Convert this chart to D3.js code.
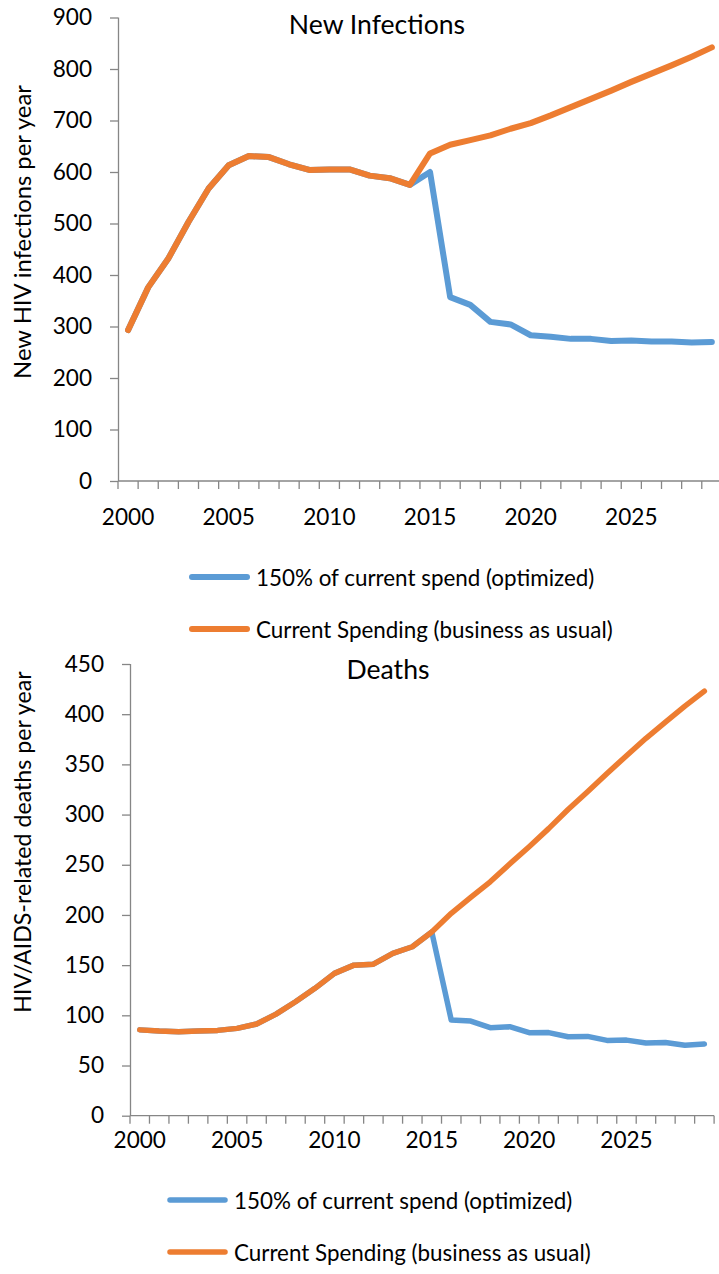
<!DOCTYPE html>
<html>
<head>
<meta charset="utf-8">
<script src="https://cdn.jsdelivr.net/npm/d3@7"></script>
<style>
  html, body { margin: 0; padding: 0; background: #fff; }
  svg { display: block; }
  text { font-family: Lato, "Open Sans", sans-serif; fill: #000; }
</style>
</head>
<body>
<svg id="chart" width="719" height="1274"></svg>
<script>
// ---------- data ----------
const years = [2000, 2001, 2002, 2003, 2004, 2005, 2006, 2007, 2008, 2009,
               2010, 2011, 2012, 2013, 2014, 2015, 2016, 2017, 2018, 2019,
               2020, 2021, 2022, 2023, 2024, 2025, 2026, 2027, 2028, 2029];
const yearLabels = [2000, 2005, 2010, 2015, 2020, 2025];

const seriesNames = ["150% of current spend (optimized)", "Current Spending (business as usual)"];

const infectionsOptimized = [293, 376, 432, 503, 568, 613, 631, 629, 615, 604,
                             605, 605, 593, 588, 575, 600, 357, 342, 309, 304,
                             283, 280, 276, 276, 272, 273, 271, 271, 269, 270];
const infectionsCurrent   = [293, 376, 432, 503, 568, 613, 631, 629, 615, 604,
                             605, 605, 593, 588, 575, 636, 653, 662, 671, 684,
                             695, 710, 726, 742, 758, 775, 791, 807, 824, 842];
const infectionsTicks = [0, 100, 200, 300, 400, 500, 600, 700, 800, 900];

const deathsOptimized = [85.5, 84.3, 83.7, 84.3, 85, 87, 91.3, 101.2, 113.5, 126.9,
                         141.8, 150, 151, 161.7, 168.3, 183, 95.3, 94.3, 87.7, 88.7,
                         82.7, 82.8, 78.7, 79, 75, 75.3, 72.4, 73, 70.1, 71.4];
const deathsCurrent   = [85.5, 84.3, 83.7, 84.3, 85, 87, 91.3, 101.2, 113.5, 126.9,
                         141.8, 150, 151, 161.7, 168.3, 183, 201.6, 217.5, 233, 250.7,
                         268, 286, 305, 322.7, 341, 358.6, 376, 392, 408, 423];
const deathsTicks = [0, 50, 100, 150, 200, 250, 300, 350, 400, 450];

const colors = ["#5B9BD5", "#ED7D31"];

// ---------- drawing ----------
const svg = d3.select("#chart");
const axisColor = "#868686";

function drawChart(cfg) {
  const g = svg.append("g");
  const x = d3.scaleBand().domain(years).range([cfg.left, cfg.left + cfg.bandW * years.length]).padding(0);
  const y = d3.scaleLinear().domain([0, cfg.ticks[cfg.ticks.length - 1]]).range([cfg.bottom, cfg.top]);

  // y axis
  const yAxis = g.append("g")
    .attr("transform", `translate(${cfg.left},0)`)
    .call(d3.axisLeft(y).tickValues(cfg.ticks).tickSize(8).tickPadding(cfg.yPad).tickFormat(d3.format("d")));
  yAxis.select(".domain").attr("stroke", axisColor).attr("stroke-width", 1.3).attr("d", `M0.5,${cfg.bottom}V${cfg.top}`);
  yAxis.selectAll(".tick line").attr("stroke", axisColor).attr("stroke-width", 1.3);
  yAxis.selectAll(".tick text").style("font-size", cfg.tickFont + "px").attr("fill", "#000");

  // x axis: boundary tick marks
  const xg = g.append("g").attr("transform", `translate(0,${cfg.bottom})`);
  xg.append("line")
    .attr("x1", cfg.left).attr("x2", x.range()[1])
    .attr("stroke", axisColor).attr("stroke-width", 1.3);
  const bounds = years.map(d => x(d)).concat([x.range()[1]]);
  xg.selectAll("line.bt").data(bounds).join("line")
    .attr("class", "bt")
    .attr("x1", d => d).attr("x2", d => d)
    .attr("y1", 0).attr("y2", 8)
    .attr("stroke", axisColor).attr("stroke-width", 1.3);
  // x labels through a band axis
  const xAxis = g.append("g")
    .attr("transform", `translate(0,${cfg.bottom})`)
    .call(d3.axisBottom(x).tickValues(yearLabels).tickSize(0).tickPadding(cfg.xPad));
  xAxis.select(".domain").remove();
  xAxis.selectAll(".tick text").style("font-size", cfg.tickFont + "px").attr("fill", "#000");

  // lines
  const line = d3.line()
    .x((d, i) => x(years[i]) + x.bandwidth() / 2)
    .y(d => y(d));
  cfg.series.forEach((s, k) => {
    g.append("path")
      .datum(s)
      .attr("fill", "none")
      .attr("stroke", colors[k])
      .attr("stroke-width", cfg.lineW)
      .attr("stroke-linejoin", "round")
      .attr("stroke-linecap", "round")
      .attr("d", line);
  });

  // title
  g.append("text")
    .attr("x", cfg.titleX).attr("y", cfg.titleY)
    .attr("text-anchor", "middle")
    .style("font-size", cfg.titleFont + "px")
    .text(cfg.title);

  // axis title
  g.append("text")
    .attr("transform", `translate(${cfg.yTitleX},${cfg.yTitleY}) rotate(-90)`)
    .attr("text-anchor", "middle")
    .attr("dominant-baseline", "central")
    .style("font-size", cfg.yTitleFont + "px")
    .text(cfg.yTitle);

  // legend
  seriesNames.forEach((name, k) => {
    const ly = cfg.legendY[k];
    g.append("line")
      .attr("x1", cfg.legendX).attr("x2", cfg.legendX + cfg.swatchW)
      .attr("y1", ly).attr("y2", ly)
      .attr("stroke", colors[k]).attr("stroke-width", cfg.lineW)
      .attr("stroke-linecap", "round");
    g.append("text")
      .attr("x", cfg.legendX + cfg.swatchW + 9).attr("y", ly)
      .attr("dominant-baseline", "central")
      .style("font-size", cfg.legendFont + "px")
      .text(name);
  });
}

drawChart({
  left: 118, top: 17.5, bottom: 481, bandW: 20.13,
  ticks: infectionsTicks, series: [infectionsOptimized, infectionsCurrent],
  yPad: 18, xPad: 28, tickFont: 22.6, lineW: 6,
  title: "New Infections", titleX: 377, titleY: 34, titleFont: 26.6,
  yTitle: "New HIV infections per year", yTitleX: 22, yTitleY: 232, yTitleFont: 23.8,
  legendX: 192, swatchW: 55, legendY: [577, 629], legendFont: 22.4
});

drawChart({
  left: 130, top: 664, bottom: 1115.7, bandW: 19.47,
  ticks: deathsTicks, series: [deathsOptimized, deathsCurrent],
  yPad: 18, xPad: 16, tickFont: 22.6, lineW: 5.5,
  title: "Deaths", titleX: 388, titleY: 679, titleFont: 26.6,
  yTitle: "HIV/AIDS-related deaths per year", yTitleX: 22, yTitleY: 842, yTitleFont: 23.2,
  legendX: 170, swatchW: 55, legendY: [1200, 1252], legendFont: 22.4
});
</script>
</body>
</html>
